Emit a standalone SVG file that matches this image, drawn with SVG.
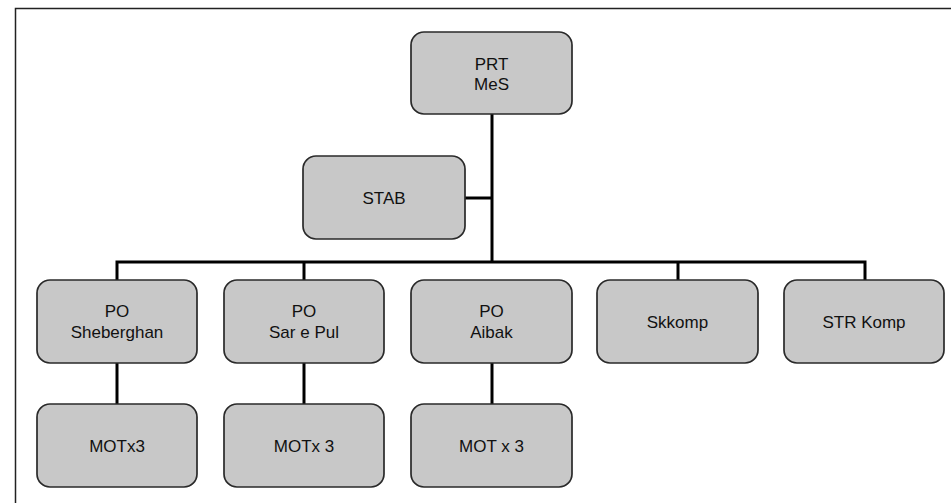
<svg xmlns="http://www.w3.org/2000/svg" width="951" height="503" viewBox="0 0 951 503">
<style>
.box{fill:#c8c8c8;stroke:#2a2a2a;stroke-width:1.7}
.t{font-family:"Liberation Sans",Arial,sans-serif;font-size:17px;fill:#111;text-anchor:middle}
.c{fill:none;stroke:#000;stroke-width:3}
</style>
<rect width="951" height="503" fill="#fff"/>
<path d="M15.5,503 V8.5 H951" fill="none" stroke="#222" stroke-width="1.5"/>
<g id="connectors">
<path class="c" d="M492,114 V262"/>
<path class="c" d="M465,198 H492"/>
<path class="c" d="M117,280 V262 H865 V280"/>
<path class="c" d="M304,262 V280"/>
<path class="c" d="M678,262 V280"/>
<path class="c" d="M117,363 V404"/>
<path class="c" d="M304,363 V404"/>
<path class="c" d="M492,363 V404"/>
</g>
<g id="prt"><rect class="box" x="411" y="32" width="161" height="82" rx="13"/><text class="t" x="491.5" y="70">PRT</text><text class="t" x="491.5" y="90">MeS</text></g>
<g id="stab"><rect class="box" x="303" y="156" width="162" height="83" rx="13"/><text class="t" x="384" y="204">STAB</text></g>
<g id="po-sheberghan"><rect class="box" x="37" y="280" width="160" height="83" rx="13"/><text class="t" x="117" y="317">PO</text><text class="t" x="117" y="338">Sheberghan</text></g>
<g id="po-sarepul"><rect class="box" x="224" y="280" width="160" height="83" rx="13"/><text class="t" x="304" y="317">PO</text><text class="t" x="304" y="338">Sar e Pul</text></g>
<g id="po-aibak"><rect class="box" x="411" y="280" width="161" height="83" rx="13"/><text class="t" x="491.5" y="317">PO</text><text class="t" x="491.5" y="338">Aibak</text></g>
<g id="skkomp"><rect class="box" x="597" y="280" width="161" height="83" rx="13"/><text class="t" x="677.5" y="328">Skkomp</text></g>
<g id="strkomp"><rect class="box" x="784" y="280" width="160" height="83" rx="13"/><text class="t" x="864" y="328">STR Komp</text></g>
<g id="mot1"><rect class="box" x="37" y="404" width="160" height="83" rx="13"/><text class="t" x="117" y="452">MOTx3</text></g>
<g id="mot2"><rect class="box" x="224" y="404" width="160" height="83" rx="13"/><text class="t" x="304" y="452">MOTx 3</text></g>
<g id="mot3"><rect class="box" x="411" y="404" width="161" height="83" rx="13"/><text class="t" x="491.5" y="452">MOT x 3</text></g>
</svg>
